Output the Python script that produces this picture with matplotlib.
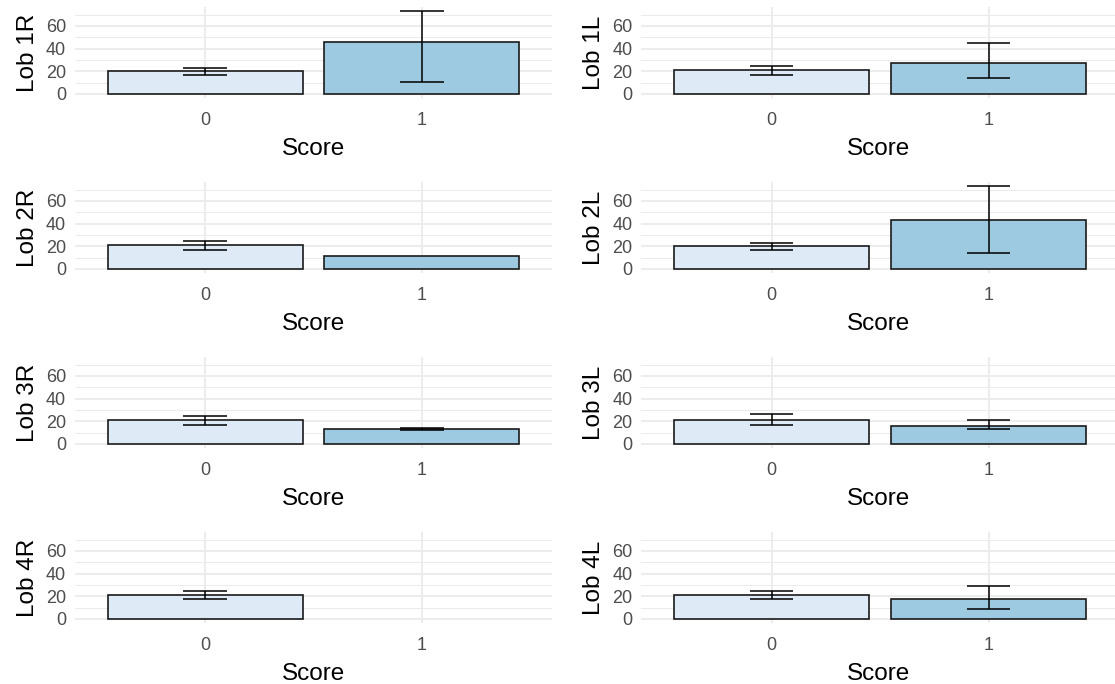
import numpy as np
import matplotlib.pyplot as plt
from matplotlib.ticker import MultipleLocator

plt.rcParams['font.family'] = ['Liberation Sans', 'DejaVu Sans']

# lobe names, one row of panels each
lobes_right = ['Lob 1R', 'Lob 2R', 'Lob 3R', 'Lob 4R']
lobes_left = ['Lob 1L', 'Lob 2L', 'Lob 3L', 'Lob 4L']
scores = ['0', '1']

# mean and error bar limits per score group (nan = no data)
mean0_right = [20.3, 21.5, 21.5, 21.5]
upper0_right = [23.2, 24.7, 24.7, 24.7]
lower0_right = [16.8, 17.1, 17.1, 17.4]
mean1_right = [45.9, 11.8, 13.0, np.nan]
upper1_right = [72.9, np.nan, 14.2, np.nan]
lower1_right = [10.3, np.nan, 11.9, np.nan]

mean0_left = [21.5, 20.3, 21.5, 21.5]
upper0_left = [24.7, 23.2, 26.2, 24.7]
lower0_left = [17.1, 16.8, 17.1, 17.4]
mean1_left = [27.6, 42.9, 15.9, 17.4]
upper1_left = [44.7, 72.9, 21.5, 28.8]
lower1_left = [14.4, 14.4, 12.9, 8.8]

fills = ['#DEEBF7', '#9ECAE1']

# shared y range, padded like ggplot's default 5% expansion
ytop = np.nanmax(upper1_right + upper1_left + upper0_right + upper0_left)
ylim = (-0.05 * ytop, 1.05 * ytop)

W, H = 1115, 684
fig = plt.figure(figsize=(W / 100, H / 100), dpi=100)


def panel(rect, xlim, label, means, uppers, lowers):
    ax = fig.add_axes(rect)
    x = np.arange(len(scores))
    ax.bar(x, means, width=0.9, color=fills, edgecolor='#1a1a1a',
           linewidth=1.2, zorder=2)
    for xi, lo, hi in zip(x, lowers, uppers):
        if np.isnan(hi):
            continue
        ax.vlines(xi, lo, hi, color='black', linewidth=1.1, zorder=3)
        ax.hlines([lo, hi], xi - 0.1, xi + 0.1, color='black',
                  linewidth=1.1, zorder=3)
    ax.set_xlim(*xlim)
    ax.set_ylim(*ylim)
    ax.set_xticks(x)
    ax.set_xticklabels(scores)
    ax.yaxis.set_major_locator(MultipleLocator(20))
    ax.yaxis.set_minor_locator(MultipleLocator(10))
    ax.grid(True, which='major', color='#EBEBEB', linewidth=1.3, zorder=0)
    ax.grid(True, which='minor', axis='y', color='#EBEBEB', linewidth=0.7,
            zorder=0)
    ax.set_axisbelow(True)
    for s in ax.spines.values():
        s.set_visible(False)
    ax.tick_params(which='both', length=0, labelsize=13, colors='#4D4D4D')
    ax.tick_params(axis='x', pad=10)
    ax.tick_params(axis='y', pad=6.5)
    ax.set_xlabel('Score', fontsize=17.5, labelpad=6.5)
    ax.set_ylabel(label, fontsize=17.5, labelpad=5)
    return ax


for r in range(4):
    top = 7.2 + 175 * r
    bottom = 98.1 + 175 * r
    h = (bottom - top) / H
    y0 = 1 - bottom / H
    # left column of the figure: right lobes
    panel([75 / W, y0, (552 - 75) / W, h], (-0.6, 1.6),
          lobes_right[r], [mean0_right[r], mean1_right[r]],
          [upper0_right[r], upper1_right[r]],
          [lower0_right[r], lower1_right[r]])
    # right column: left lobes (panel runs off the right edge)
    panel([641.3 / W, y0, (W - 641.3) / W, h], (-0.6, (W - 771.5) / 217),
          lobes_left[r], [mean0_left[r], mean1_left[r]],
          [upper0_left[r], upper1_left[r]],
          [lower0_left[r], lower1_left[r]])

fig.savefig('out.png', dpi=100, facecolor='white')
